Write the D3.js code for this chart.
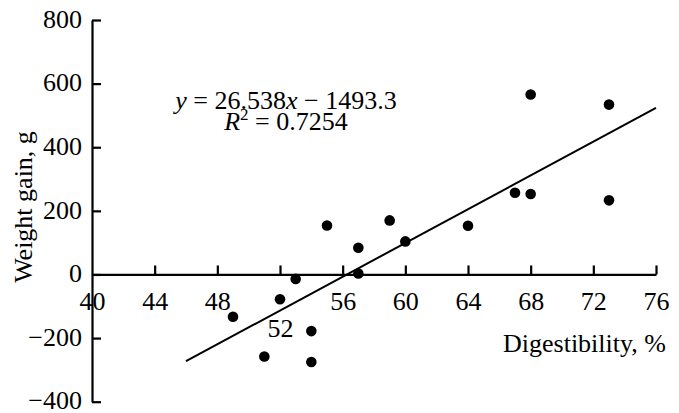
<!DOCTYPE html>
<html>
<head>
<meta charset="utf-8">
<script src="https://cdn.jsdelivr.net/npm/d3@7/dist/d3.min.js"></script>
</head>
<body style="margin:0;background:#fff">
<div class="chart"></div>
<script>

// values
var digestibility = [49, 51, 52, 53, 54, 54, 55, 57, 57, 59, 60, 64, 67, 68, 68, 73, 73];
var weightGain = [-133, -258, -78, -14, -178, -275, 154, 84, 3, 170, 104, 153, 257, 253, 566, 534, 233];

var xTicks = [40, 44, 48, 52, 56, 60, 64, 68, 72, 76];
var yTicks = [-400, -200, 0, 200, 400, 600, 800];

// fitted line y = slope * x + intercept, drawn between these x values
var slope = 26.538;
var intercept = -1493.3;
var fitRange = [46, 76];

var serif = "'Liberation Serif', 'Times New Roman', serif";

var svgWidth = 679;
var svgHeight = 413;

var svg = d3.select(".chart")
	.append("svg")
	.attr("width", svgWidth)
	.attr("height", svgHeight)
	.style("font-family", serif);

var xScale = d3.scaleLinear()
	.domain([40, 76])
	.range([92, 656]);

var yScale = d3.scaleLinear()
	.domain([-400, 800])
	.range([401.7, 20]);

// y axis, ticks pointing inward
var yAxis = svg.append("g")
	.attr("transform", "translate(" + xScale(40) + ",0)")
	.call(d3.axisLeft(yScale)
		.tickValues(yTicks)
		.tickSizeInner(-9)
		.tickSizeOuter(0)
		.tickPadding(10));

// x axis sits on y = 0
var xAxis = svg.append("g")
	.attr("transform", "translate(0," + yScale(0) + ")")
	.call(d3.axisBottom(xScale)
		.tickValues(xTicks)
		.tickSizeInner(-9)
		.tickSizeOuter(0)
		.tickPadding(17));

svg.selectAll(".domain, .tick line")
	.attr("stroke", "#000")
	.attr("stroke-width", 2.2);

svg.selectAll(".tick text")
	.style("font-family", serif)
	.style("font-size", "26px")
	.attr("fill", "#000");

// bottom tick label sits a little higher so it stays inside the frame
yAxis.selectAll(".tick text")
	.attr("dy", "0.28em");

// the 40 tick overlaps the y axis, the 52 label is pushed below the points
xAxis.selectAll(".tick")
	.filter(function (d) { return d === 40; })
	.select("line").remove();

xAxis.selectAll(".tick")
	.filter(function (d) { return d === 52; })
	.select("text")
	.attr("y", 44);

// regression line
var fitLine = d3.line()
	.x(function (d) { return xScale(d); })
	.y(function (d) { return yScale(slope * d + intercept); });

svg.append("path")
	.datum(fitRange)
	.attr("d", fitLine)
	.attr("fill", "none")
	.attr("stroke", "#000")
	.attr("stroke-width", 2);

// data points
svg.selectAll(".pt")
	.data(digestibility)
	.enter()
	.append("circle")
	.classed("pt", true)
	.attr("cx", function (d) { return xScale(d); })
	.attr("cy", function (d, i) { return yScale(weightGain[i]); })
	.attr("r", 5.3)
	.attr("fill", "#000");

// equation text, two centred lines in one text element
var eq = svg.append("text")
	.attr("x", 286)
	.attr("y", 109)
	.attr("text-anchor", "middle")
	.style("font-family", serif)
	.style("font-size", "26px");
eq.append("tspan").style("font-style", "italic").text("y");
eq.append("tspan").text(" = 26.538");
eq.append("tspan").style("font-style", "italic").text("x");
eq.append("tspan").text(" \u2212 1493.3");
eq.append("tspan").attr("x", 286).attr("dy", 21).style("font-style", "italic").text("R");
eq.append("tspan").style("font-size", "17px").attr("dy", -10).text("2");
eq.append("tspan").attr("dy", 10).text(" = 0.7254");

// axis titles
svg.append("text")
	.attr("x", 666)
	.attr("y", 352)
	.attr("text-anchor", "end")
	.style("font-family", serif)
	.style("font-size", "26px")
	.text("Digestibility, %");

svg.append("text")
	.attr("transform", "translate(32,207) rotate(-90)")
	.attr("text-anchor", "middle")
	.style("font-family", serif)
	.style("font-size", "26px")
	.text("Weight gain, g");

</script>
</body>
</html>
